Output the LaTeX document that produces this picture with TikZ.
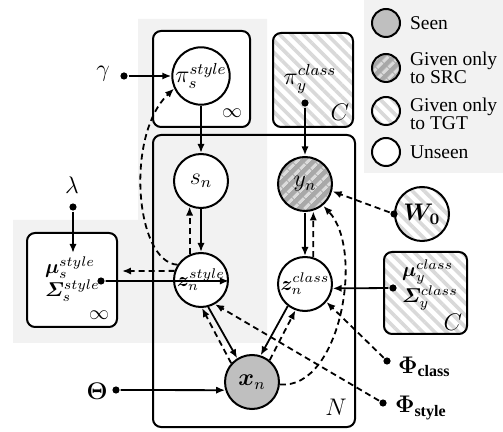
\documentclass[tikz,border=0pt]{standalone}
\usepackage{fontspec}
\setmainfont{Liberation Serif}
\usepackage{bm}
\DeclareSymbolFont{bletters}{OML}{cmm}{b}{it}
\DeclareMathSymbol{\bSigma}{\mathord}{bletters}{"06}
\usetikzlibrary{arrows.meta,patterns.meta}
\tikzset{
  var/.style={circle,draw,minimum size=27pt,inner sep=0pt},
  hid/.style={var,fill=white},
  obs/.style={var,fill=gray!50},
  src/.style={preaction={fill=gray!68},pattern={Lines[angle=45,distance=4pt,line width=1.6pt]},pattern color=gray!28},
  tgt/.style={preaction={fill=white},pattern={Lines[angle=-45,distance=4.2pt,line width=1.8pt]},pattern color=gray!30},
  plate/.style={draw,rounded corners=4pt,inner sep=0pt},
  dot/.style={circle,fill=black,inner sep=0pt,minimum size=3.6pt},
  arr/.style={-{Latex[length=4.5pt,width=3.6pt]},line width=0.9pt},
  darr/.style={arr,dash pattern=on 3pt off 2pt},
}

\begin{document}
\begin{tikzpicture}[x=0.5pt,y=-0.5pt,line width=1pt,font=\fontsize{12}{14}\selectfont,
   legtxt/.style={font=\fontsize{9.75}{9}\selectfont,align=left,inner sep=1pt,anchor=west},
   ztxt/.style={font=\fontsize{10}{12}\selectfont},
   partxt/.style={font=\fontsize{10}{11.5}\selectfont,align=left,anchor=west,inner sep=0pt}]
  \useasboundingbox (0,0) rectangle (503,432);
  % shaded panels
  \fill[gray!10] (13,220) -- (138,220) -- (138,19) -- (267,19) -- (267,343) -- (13,343) -- cycle;
  \fill[gray!10] (364,0) rectangle (503,173);

  % plates
  \node[plate,fill=white,minimum width=48.5pt,minimum height=48pt] (pisplate) at (201.5,79) {};
  \node[plate,tgt,minimum width=40pt,minimum height=47pt] (piyplate) at (313,80) {};
  \node[plate,minimum width=101pt,minimum height=146pt] (nplate) at (254,281) {};
  \node[plate,fill=white,minimum width=45pt,minimum height=47pt] (musplate) at (72,280) {};
  \node[plate,tgt,minimum width=41.5pt,minimum height=41pt] (muyplate) at (425.5,293) {};
  \node[font=\fontsize{10}{12}\selectfont] (infs) at (232,113) {$\infty$};
  \node[font=\fontsize{10}{12}\selectfont] (infm) at (99,315) {$\infty$};
  \node (cpi) at (340,112) {$C$};
  \node (cmu) at (453,322) {$C$};
  \node (nn) at (336,407) {$N$};

  % variables
  \node[hid] (pis) at (201,76) {$\pi_s^{style}$};
  \node[hid] (sn) at (201,181) {$s_n$};
  \node[hid,ztxt] (zs) at (201,280) {$\bm{z}_n^{style}$};
  \node[var,src] (yn) at (305,184) {$y_n$};
  \node[hid,ztxt] (zc) at (305,284) {$\bm{z}_n^{class}$};
  \node[obs] (xn) at (252,382) {$\bm{x}_n$};
  \node[var,tgt] (w0) at (422,214) {$\bm{W}_{\bm{0}}$};
  \node (piy) at (310,79) {$\pi_y^{class}$};
  \node[partxt] (mus) at (44,279) {$\bm{\mu}_s^{style}$\\$\bSigma_s^{style}$};
  \node[partxt] (muy) at (401,285) {$\bm{\mu}_y^{class}$\\$\bSigma_y^{class}$};

  % hyperparameters
  \node (gammal) at (103,74) {$\gamma$};
  \node (lambdal) at (72,185) {$\lambda$};
  \node (thetal) at (97,391) {$\bm{\Theta}$};
  \node[anchor=west,inner sep=1pt] (phicl) at (395,367) {$\bm{\Phi}_{\mathbf{class}}$};
  \node[anchor=west,inner sep=1pt] (phisl) at (392,408) {$\bm{\Phi}_{\mathbf{style}}$};
  \node[dot] (gamma) at (124,76) {};
  \node[dot] (lambda) at (73,207) {};
  \node[dot] (theta) at (116,390) {};
  \node[dot] (phic) at (387,361) {};
  \node[dot] (phis) at (383,403) {};
  \node[dot] (piydot) at (305,103) {};
  \node[dot] (musdot) at (101,281) {};
  \node[dot] (muydot) at (393,288) {};
  \node[dot] (w0dot) at (w0.west) {};
  \coordinate (lambdain) at (73,253);
  \coordinate (musin) at (122,271);

  % generative edges
  \draw[arr] (gamma) -- (pis);
  \draw[arr] (lambda) -- (lambdain);
  \draw[arr] (theta) -- (xn.197);
  \draw[arr] (pis) -- (sn);
  \draw[arr] (sn) -- (zs);
  \draw[arr] (piydot) -- (yn);
  \draw[arr] (yn) -- (zc);
  \draw[arr] (musdot) -- (zs.-2);
  \draw[arr] (muydot) -- (zc.-9);
  \draw[arr] (zs.-75) -- (xn.122);
  \draw[arr] (zc.-128) -- (xn.72);

  % inference edges
  \draw[darr] (zs.114) -- (sn.246);
  \draw[darr] (zc.73) -- (yn.-73);
  \draw[darr] (xn.138) -- (zs.-88);
  \draw[darr] (xn.51) -- (zc.-110);
  \draw[darr] (zs.161) -- (musin);
  \draw[darr] (phis) -- (zs.-60);
  \draw[darr] (phic) -- (zc.-40);
  \draw[darr] (w0dot) -- (yn.-15);
  \draw[darr] (zs.147) .. controls (135,262) and (125,135) .. (pis.205);
  \draw[darr] (xn.-5) .. controls (340,390) and (365,250) .. (yn.-50);

  % legend
  \node[obs,minimum size=14pt] (lseen) at (386,23) {};
  \node[var,src,minimum size=14pt] (lsrc) at (386,68) {};
  \node[var,tgt,minimum size=14pt] (ltgt) at (386,111) {};
  \node[hid,minimum size=14pt] (lunseen) at (386,152) {};
  \node[legtxt] at ([xshift=3pt]lseen.east) {Seen};
  \node[legtxt] at ([xshift=3pt]lsrc.east) {Given only\\to SRC};
  \node[legtxt] at ([xshift=3pt,yshift=-1.5pt]ltgt.east) {Given only\\to TGT};
  \node[legtxt] at ([xshift=3pt]lunseen.east) {Unseen};
\end{tikzpicture}
\end{document}
